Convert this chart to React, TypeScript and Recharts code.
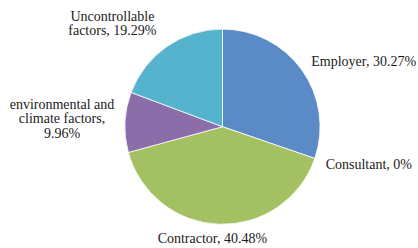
import React from "react";
import { PieChart, Pie, Cell } from "recharts";

const categories = [
  "Employer",
  "Consultant",
  "Contractor",
  "environmental and climate factors",
  "Uncontrollable factors",
];
const values = [30.27, 0, 40.48, 9.96, 19.29];
const valueLabels = ["30.27%", "0%", "40.48%", "9.96%", "19.29%"];

const COLORS = ["#5B8BC6", "#C0504D", "#A3C163", "#8B6DAA", "#56B3CD"];

// label text lines and offsets from the slice's outer mid point
const LABEL_LINES: string[][] = [
  ["Employer, 30.27%"],
  ["Consultant, 0%"],
  ["Contractor, 40.48%"],
  ["environmental and", "climate factors,", "9.96%"],
  ["Uncontrollable", "factors, 19.29%"],
];
const LABEL_OFFSETS: [number, number][] = [
  [61.7, -4],
  [54, 10.5],
  [-7, 18.7],
  [-63, -13],
  [-54.5, -25.7],
];

const data = categories.map((name, i) => ({ name, value: values[i], label: valueLabels[i] }));

const RADIAN = Math.PI / 180;
const FONT = "Liberation Serif, Times New Roman, serif";

const renderLabel = (props: any) => {
  const { cx, cy, midAngle, outerRadius, index } = props;
  const ex = cx + outerRadius * Math.cos(-midAngle * RADIAN);
  const ey = cy + outerRadius * Math.sin(-midAngle * RADIAN);
  const [dx, dy] = LABEL_OFFSETS[index];
  const lines = LABEL_LINES[index];
  return (
    <text
      key={`lbl-${index}`}
      x={ex + dx}
      y={ey + dy}
      textAnchor="middle"
      fill="#1a1a1a"
      style={{ fontFamily: FONT, fontSize: 14 }}
    >
      {lines.map((l, i) => (
        <tspan key={i} x={ex + dx} dy={i === 0 ? 0 : 14.2} style={{ fontFamily: FONT }}>
          {l}
        </tspan>
      ))}
    </text>
  );
};

export default function App() {
  return (
    <div style={{ position: "absolute", left: 0, top: 0, width: 418, height: 248, background: "#fff", fontFamily: FONT }}>
      <PieChart width={418} height={248} margin={{ top: 0, right: 0, bottom: 0, left: 0 }} style={{ fontFamily: FONT }}>
        <Pie
          data={data}
          dataKey="value"
          nameKey="name"
          cx={222.5}
          cy={126.7}
          outerRadius={97.6}
          startAngle={90}
          endAngle={-270}
          stroke="#ffffff"
          strokeWidth={0.8}
          label={renderLabel}
          labelLine={false}
          isAnimationActive={false}
        >
          {data.map((d, i) => (
            <Cell key={d.name} fill={COLORS[i]} />
          ))}
        </Pie>
      </PieChart>
    </div>
  );
}
